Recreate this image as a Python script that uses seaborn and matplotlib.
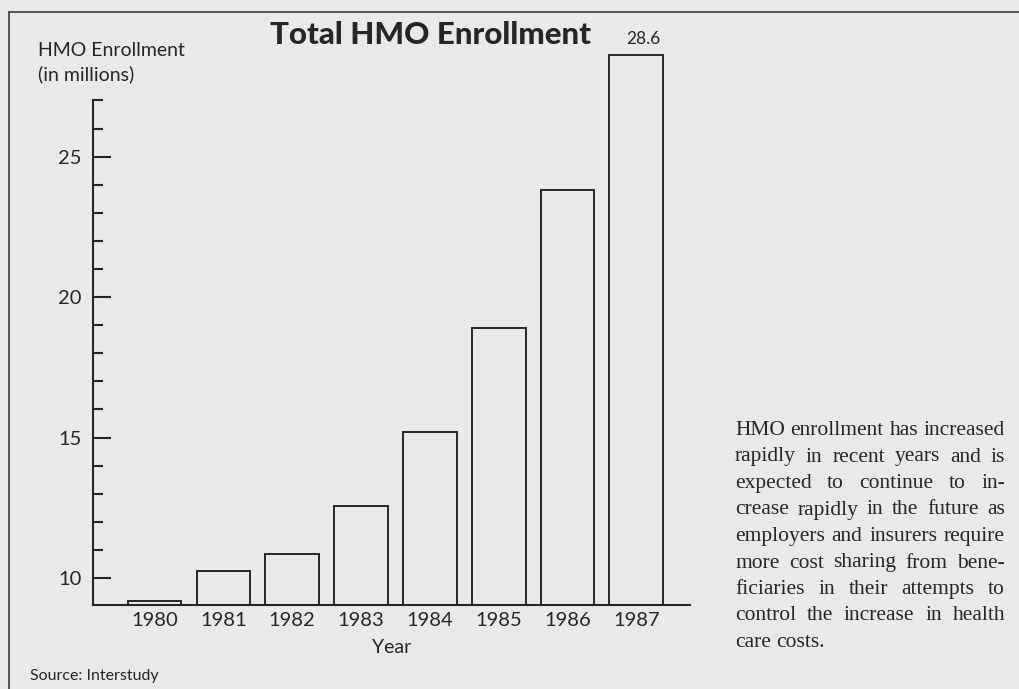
import matplotlib
matplotlib.use("Agg")
import matplotlib.pyplot as plt
import seaborn as sns
import pandas as pd

years = ["1980", "1981", "1982", "1983", "1984", "1985", "1986", "1987"]
enrollment = [9.2, 10.25, 10.85, 12.55, 15.2, 18.9, 23.8, 28.6]
y_ticks = [10, 15, 20, 25]
y_minor = list(range(10, 28))
note_lines = [
    "HMO enrollment has increased",
    "rapidly in recent years and is",
    "expected to continue to in-",
    "crease rapidly in the future as",
    "employers and insurers require",
    "more cost sharing from bene-",
    "ficiaries in their attempts to",
    "control the increase in health",
    "care costs.",
]

paper = "#e9e9eb"
ink = "#262626"
W, H = 1019, 689

sns.set_theme(style="white")
plt.rcParams["font.family"] = ["Lato", "DejaVu Sans"]

fig = plt.figure(figsize=(W / 100, H / 100), dpi=100, facecolor=paper)
ax = fig.add_axes([93 / W, 1 - 605 / H, (690 - 93) / W, (605 - 40) / H])
ax.set_facecolor(paper)

df = pd.DataFrame({"year": years, "enrollment": enrollment})
sns.barplot(data=df, x="year", y="enrollment", order=years, fill=False,
            color=ink, linewidth=1.4, width=0.78, ax=ax)

ax.set_xlim(-0.894, 7.78)
ax.set_ylim(9.04, 29.15)
for s in ["top", "right"]:
    ax.spines[s].set_visible(False)
for s in ["left", "bottom"]:
    ax.spines[s].set_color(ink)
    ax.spines[s].set_linewidth(1.5)
ax.spines["left"].set_bounds(9.04, 27)

ax.set_yticks(y_ticks)
ax.set_yticks(y_minor, minor=True)
ax.tick_params(axis="y", which="major", direction="in", length=13, width=1.5,
               color=ink, labelsize=14.5, labelcolor=ink, pad=8, left=True)
ax.tick_params(axis="y", which="minor", direction="in", length=7, width=1.5,
               color=ink, left=True)
ax.tick_params(axis="x", length=0, labelsize=14.5, labelcolor=ink, pad=5)

ax.set_xlabel("Year", fontsize=14, color=ink)
ax.xaxis.set_label_coords(0.5, -0.06)
ax.set_ylabel("")

ax.annotate("28.6", xy=(7, enrollment[-1]), xytext=(5, 6), textcoords="offset points",
            ha="center", va="bottom", fontsize=12.5, color=ink)

# headings and notes
fig.text(431 / W, 1 - 44 / H, "Total HMO Enrollment", ha="center", va="baseline",
         fontsize=22.5, fontweight="black", color=ink)
fig.text(38 / W, 1 - 56 / H, "HMO Enrollment", ha="left", va="baseline",
         fontsize=14, color=ink)
fig.text(38 / W, 1 - 80 / H, "(in millions)", ha="left", va="baseline",
         fontsize=14, color=ink)
fig.text(30 / W, 1 - 680 / H, "Source: Interstudy", ha="left", va="baseline",
         fontsize=11.5, color=ink)

# frame lines along top and left edge
fig.add_artist(plt.Line2D([9 / W, 1], [1 - 12 / H, 1 - 12 / H],
                          transform=fig.transFigure, color="#3a3a3a", lw=1.2))
fig.add_artist(plt.Line2D([9 / W, 9 / W], [0, 1 - 12 / H],
                          transform=fig.transFigure, color="#3a3a3a", lw=1.2))

# justified serif paragraph
renderer = fig.canvas.get_renderer()
left_px, right_px = 735, 1005
base0, lead = 435, 26.5
note_kw = dict(fontsize=15.5, family="Liberation Serif", color=ink, va="baseline", ha="left")
for i, line in enumerate(note_lines):
    y = 1 - (base0 + i * lead) / H
    words = line.split()
    items = [fig.text(0, y, w, **note_kw) for w in words]
    widths = [t.get_window_extent(renderer).width for t in items]
    if i == len(note_lines) - 1:
        gap = fig.text(0, 0, "a a", **note_kw).get_window_extent(renderer).width
        gap -= 2 * fig.text(0, 0, "a", **note_kw).get_window_extent(renderer).width
        fig.texts = fig.texts[:-2]
    else:
        gap = (right_px - left_px - sum(widths)) / (len(words) - 1)
    x = left_px
    for t, w in zip(items, widths):
        t.set_x(x / W)
        x += w + gap

fig.savefig("out.png", dpi=100, facecolor=paper)
